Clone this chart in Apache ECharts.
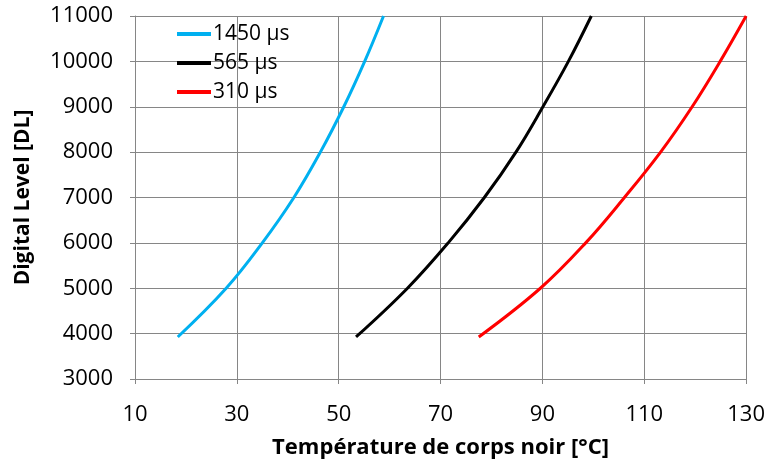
<!DOCTYPE html>
<html><head><meta charset="utf-8">
<script src="https://cdn.jsdelivr.net/npm/echarts@6/dist/echarts.min.js"></script>
<style>html,body{margin:0;padding:0;background:#fff}#c{width:768px;height:465px}</style>
</head><body><div id="c"></div>
<script>
const seriesNames = ['1450 µs', '565 µs', '310 µs'];
const blue1450 = [[18.4,3926],[27.9,5000],[35.0,6000],[41.2,7000],[46.4,8000],[51.0,9000],[55.1,10000],[58.8,11000]];
const black565 = [[53.4,3926],[63.5,5000],[71.5,6000],[78.6,7000],[84.8,8000],[90.1,9000],[95.1,10000],[99.6,11000]];
const red310 = [[77.5,3926],[89.6,5000],[98.5,6000],[106.1,7000],[113.2,8000],[119.4,9000],[124.9,10000],[130.0,11000]];
const xTitle = 'Température de corps noir [°C]';
const yTitle = 'Digital Level [DL]';

const font = '"Open Sans", Lato, sans-serif';
const chart = echarts.init(document.getElementById('c'));
const mk = (name, data, color) => ({
  name, type: 'line', data, smooth: 0.4, showSymbol: false, symbol: 'none',
  lineStyle: {width: 3, color}, itemStyle: {color}
});
chart.setOption({
  animation: false,
  grid: {left: 135, right: 19, top: 16, bottom: 86},
  legend: {
    orient: 'vertical', left: 177, top: 23, padding: 0, itemWidth: 34, itemHeight: 4, itemGap: 7,
    icon: 'rect', data: seriesNames,
    textStyle: {fontFamily: font, fontSize: 21, color: '#000', lineHeight: 22, padding: [0,0,0,-3]}
  },
  xAxis: {
    type: 'value', min: 10, max: 130, interval: 20,
    name: xTitle, nameLocation: 'middle', nameGap: 58,
    nameTextStyle: {fontFamily: font, fontSize: 22, fontWeight: 'bold', color: '#000'},
    axisLine: {show: true, lineStyle: {color: '#868686'}},
    axisTick: {show: true, length: 5, lineStyle: {color: '#868686'}},
    axisLabel: {fontFamily: font, fontSize: 22, color: '#000', margin: 25},
    splitLine: {show: true, lineStyle: {color: '#868686', width: 1}}
  },
  yAxis: {
    type: 'value', min: 3000, max: 11000, interval: 1000,
    name: yTitle, nameLocation: 'middle', nameGap: 101, nameRotate: 90,
    nameTextStyle: {fontFamily: font, fontSize: 21, fontWeight: 'bold', color: '#000'},
    axisLine: {show: true, lineStyle: {color: '#868686'}},
    axisTick: {show: true, length: 5, lineStyle: {color: '#868686'}},
    axisLabel: {fontFamily: font, fontSize: 22, color: '#000', margin: 22, formatter: v => String(v)},
    splitLine: {show: true, lineStyle: {color: '#868686', width: 1}}
  },
  series: [
    mk(seriesNames[0], blue1450, '#00B0F0'),
    mk(seriesNames[1], black565, '#000000'),
    mk(seriesNames[2], red310, '#FF0000')
  ]
});
</script></body></html>
